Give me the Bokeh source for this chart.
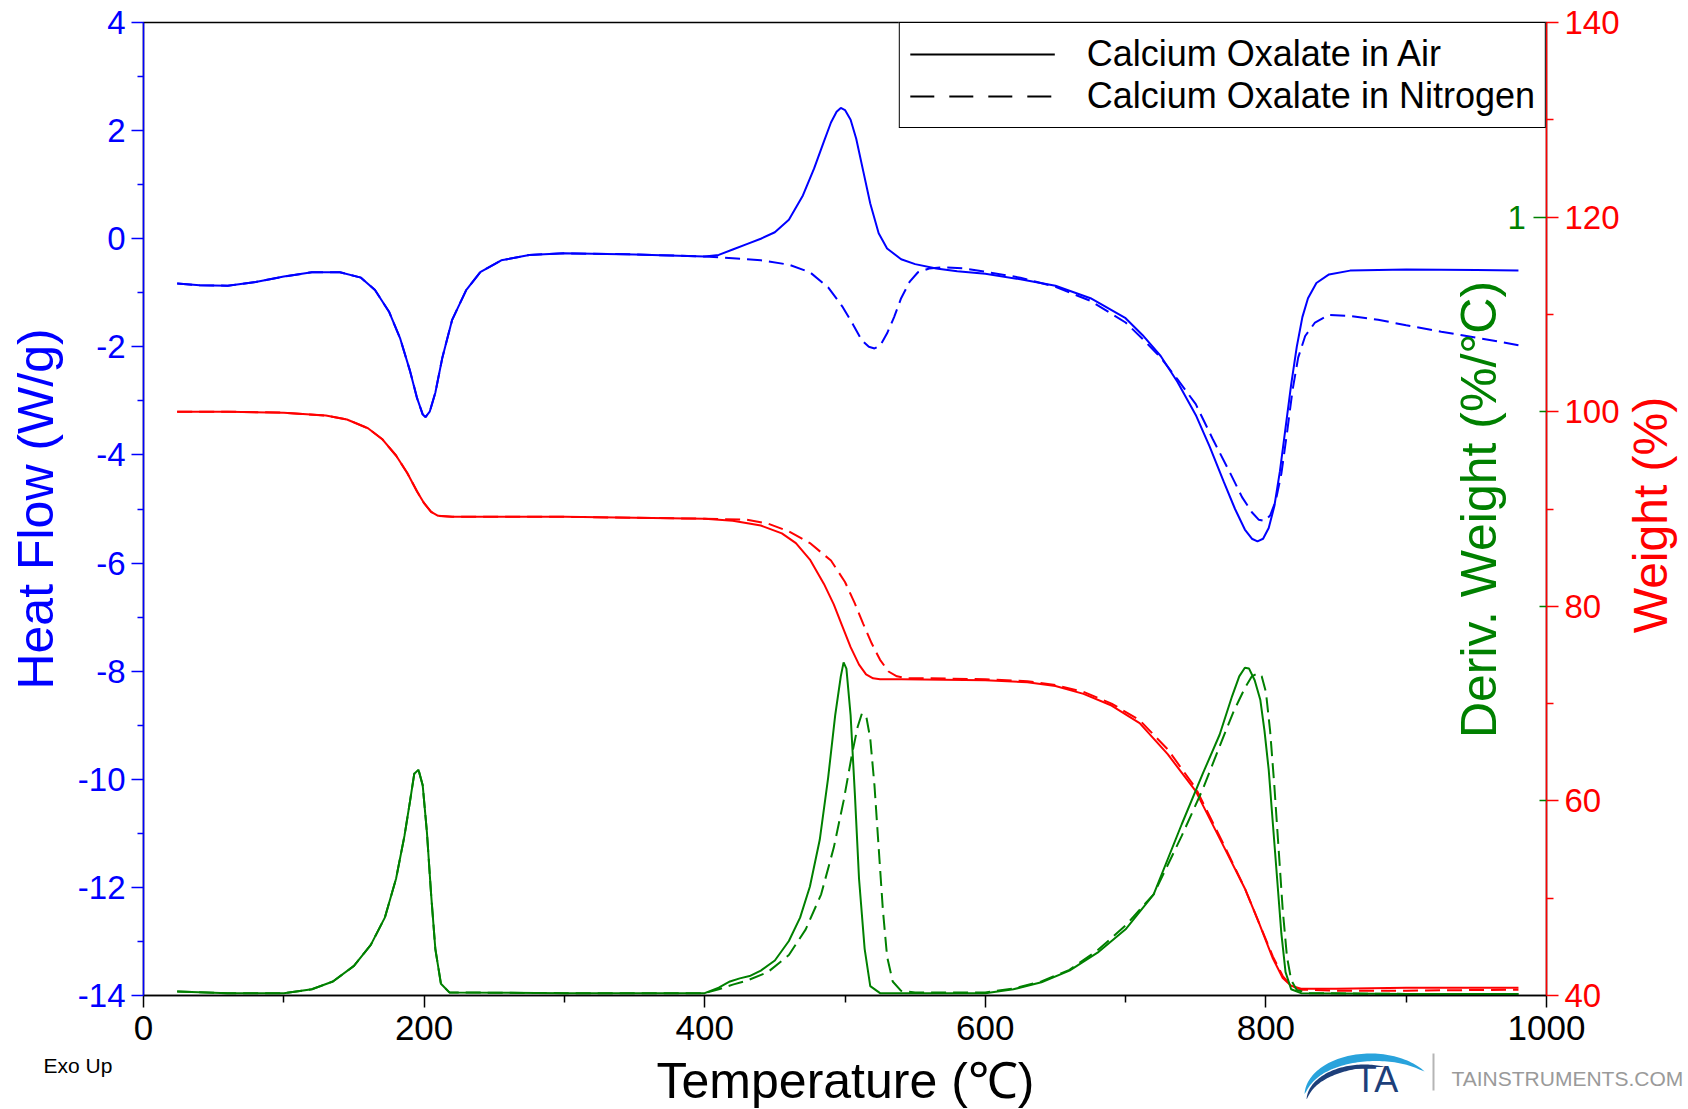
import numpy as np
from bokeh.plotting import figure
from bokeh.layouts import column, row
from bokeh.models import (Range1d, LinearAxis, FixedTicker, Legend, LegendItem, Label)
from bokeh.embed import file_html
from bokeh.resources import INLINE

FONT = "Liberation Sans"
BLUE = "#0000FF"
RED = "#FF0000"
GREEN = "#008000"

# ---------------- data ----------------
# Heat flow (W/g), air
t_hf_air = [24, 40, 60, 80, 100, 120, 140, 155, 165, 175, 183, 190, 195, 199, 201, 204, 208, 213, 220,
            230, 240, 255, 275, 300, 350, 400, 410, 420, 430, 440, 450, 460, 470, 478, 485, 490, 494,
            497, 500, 504, 508, 513, 518, 524, 530, 540, 550, 565, 580, 600, 625, 650, 675, 700, 712,
            725, 737, 750, 760, 770, 778, 785, 790, 794, 798, 802, 806, 810, 814, 818, 822, 826, 830,
            836, 845, 860, 900, 950, 980]
hf_air = [-0.83, -0.86, -0.87, -0.80, -0.70, -0.62, -0.62, -0.72, -0.95, -1.35, -1.85, -2.45, -2.95,
          -3.25, -3.30, -3.20, -2.85, -2.20, -1.50, -0.95, -0.62, -0.40, -0.30, -0.27, -0.29, -0.33,
          -0.30, -0.20, -0.10, 0.00, 0.12, 0.35, 0.80, 1.30, 1.80, 2.15, 2.35, 2.42, 2.38, 2.20, 1.85,
          1.25, 0.65, 0.10, -0.18, -0.38, -0.47, -0.55, -0.60, -0.65, -0.75, -0.87, -1.10, -1.47,
          -1.78, -2.17, -2.65, -3.26, -3.85, -4.50, -5.00, -5.38, -5.55, -5.60, -5.55, -5.35, -4.95,
          -4.30, -3.50, -2.70, -2.00, -1.45, -1.10, -0.82, -0.66, -0.59, -0.57, -0.58, -0.59]

# Heat flow (W/g), nitrogen
t_hf_n2 = [24, 40, 60, 80, 100, 120, 140, 155, 165, 175, 183, 190, 195, 199, 201, 204, 208, 213, 220,
           230, 240, 255, 275, 300, 350, 400, 420, 440, 460, 475, 488, 498, 506, 512, 517, 521, 525,
           530, 535, 540, 546, 552, 560, 570, 585, 600, 625, 650, 675, 700, 712, 725, 737, 750, 762,
           775, 783, 790, 795, 799, 803, 807, 811, 815, 819, 823, 828, 835, 845, 860, 880, 900, 925,
           950, 980]
hf_n2 = [-0.83, -0.86, -0.87, -0.80, -0.70, -0.62, -0.62, -0.72, -0.95, -1.35, -1.85, -2.45, -2.95,
         -3.25, -3.30, -3.20, -2.85, -2.20, -1.50, -0.95, -0.62, -0.40, -0.30, -0.27, -0.29, -0.33,
         -0.36, -0.40, -0.48, -0.62, -0.90, -1.25, -1.60, -1.88, -2.00, -2.03, -1.98, -1.75, -1.45,
         -1.10, -0.80, -0.62, -0.55, -0.53, -0.55, -0.61, -0.72, -0.89, -1.15, -1.55, -1.85, -2.20,
         -2.60, -3.06, -3.70, -4.36, -4.78, -5.06, -5.20, -5.22, -5.12, -4.85, -4.35, -3.60, -2.80,
         -2.20, -1.80, -1.55, -1.41, -1.43, -1.50, -1.60, -1.72, -1.83, -1.97]

# Weight (%), air
t_w_air = [24, 60, 100, 130, 145, 160, 170, 180, 188, 195, 200, 205, 210, 220, 300, 400, 420, 440,
           455, 465, 475, 485, 492, 498, 504, 510, 515, 520, 525, 540, 600, 630, 650, 670, 690, 710,
           730, 750, 770, 785, 795, 805, 812, 818, 825, 850, 900, 980]
w_air = [100.0, 100.0, 99.9, 99.6, 99.2, 98.3, 97.2, 95.5, 93.7, 91.8, 90.6, 89.7, 89.3, 89.2, 89.2,
         89.0, 88.8, 88.3, 87.5, 86.5, 84.8, 82.3, 80.2, 78.0, 75.8, 74.0, 73.0, 72.6, 72.5, 72.5,
         72.4, 72.2, 71.8, 71.0, 69.8, 68.0, 64.8, 61.0, 55.3, 51.0, 47.5, 43.8, 41.8, 41.0, 40.7,
         40.7, 40.8, 40.8]

# Weight (%), nitrogen
t_w_n2 = [24, 60, 100, 130, 145, 160, 170, 180, 188, 195, 200, 205, 210, 220, 300, 400, 430, 445, 460,
          475, 490, 500, 507, 513, 519, 525, 531, 537, 545, 560, 600, 630, 650, 670, 690, 710, 730,
          750, 770, 785, 795, 805, 812, 818, 825, 850, 900, 980]
w_n2 = [100.0, 100.0, 99.9, 99.6, 99.2, 98.3, 97.2, 95.5, 93.7, 91.8, 90.6, 89.7, 89.3, 89.2, 89.2,
        89.0, 88.9, 88.5, 87.7, 86.5, 84.7, 82.5, 80.3, 78.2, 76.2, 74.5, 73.3, 72.8, 72.6, 72.6,
        72.5, 72.3, 71.9, 71.2, 70.0, 68.3, 65.3, 61.3, 55.5, 51.0, 47.5, 44.0, 42.0, 41.0, 40.6,
        40.5, 40.5, 40.6]

# Deriv. weight (%/°C), air
t_d_air = [24, 60, 100, 120, 135, 150, 162, 172, 180, 186, 190, 193, 196, 199, 202, 205, 208, 212, 218,
           300, 400, 410, 418, 425, 432, 440, 450, 460, 468, 475, 482, 488, 493, 497, 499, 501, 504,
           507, 510, 514, 518, 525, 600, 620, 640, 660, 680, 700, 720, 740, 755, 767, 776, 781, 785,
           788, 792, 796, 799, 802, 805, 808, 811, 814, 818, 825, 900, 980]
d_air = [0.005, 0.003, 0.003, 0.008, 0.018, 0.038, 0.065, 0.10, 0.15, 0.205, 0.25, 0.285, 0.29, 0.27,
         0.21, 0.13, 0.06, 0.015, 0.004, 0.003, 0.003, 0.010, 0.018, 0.022, 0.025, 0.032, 0.045,
         0.070, 0.10, 0.14, 0.20, 0.28, 0.36, 0.41, 0.428, 0.42, 0.36, 0.26, 0.15, 0.06, 0.012,
         0.003, 0.003, 0.008, 0.017, 0.032, 0.055, 0.085, 0.13, 0.22, 0.285, 0.335, 0.385, 0.41,
         0.421, 0.42, 0.405, 0.38, 0.34, 0.29, 0.22, 0.15, 0.08, 0.03, 0.008, 0.003, 0.002, 0.002]

# Deriv. weight (%/°C), nitrogen
t_d_n2 = [24, 60, 100, 120, 135, 150, 162, 172, 180, 186, 190, 193, 196, 199, 202, 205, 208, 212, 218,
          300, 400, 410, 420, 430, 445, 460, 472, 483, 492, 499, 505, 509, 512, 515, 518, 521, 524,
          527, 530, 534, 540, 550, 600, 620, 640, 660, 680, 700, 720, 740, 755, 767, 777, 785, 790,
          794, 797, 800, 803, 806, 809, 812, 815, 818, 822, 830, 900, 980]
d_n2 = [0.005, 0.003, 0.003, 0.008, 0.018, 0.038, 0.065, 0.10, 0.15, 0.205, 0.25, 0.285, 0.29, 0.27,
        0.21, 0.13, 0.06, 0.015, 0.004, 0.003, 0.003, 0.008, 0.014, 0.019, 0.030, 0.052, 0.085, 0.13,
        0.19, 0.25, 0.31, 0.345, 0.362, 0.36, 0.33, 0.27, 0.19, 0.11, 0.05, 0.018, 0.006, 0.004,
        0.004, 0.009, 0.018, 0.033, 0.058, 0.09, 0.13, 0.205, 0.265, 0.32, 0.365, 0.395, 0.41, 0.414,
        0.41, 0.39, 0.34, 0.27, 0.19, 0.11, 0.05, 0.02, 0.007, 0.003, 0.002, 0.002]

legend_labels = ["Calcium Oxalate in Air", "Calcium Oxalate in Nitrogen"]

x_ticks = [0, 200, 400, 600, 800, 1000]
x_minor = [100, 300, 500, 700, 900]
hf_ticks = [-14, -12, -10, -8, -6, -4, -2, 0, 2, 4]
hf_minor = [-13, -11, -9, -7, -5, -3, -1, 1, 3]
w_ticks = [40, 60, 80, 100, 120, 140]
w_minor = [50, 70, 90, 110, 130]
d_ticks = [1]
d_minor = [0.25, 0.5, 0.75]

# ---------------- main figure ----------------
p = figure(width=1623, height=1051, x_range=Range1d(0, 1000), y_range=Range1d(-14, 4),
           output_backend="svg", toolbar_location=None,
           min_border_left=143, min_border_right=77, min_border_top=22, min_border_bottom=56,
           background_fill_color="white", border_fill_color="white")
p.grid.visible = False
p.outline_line_color = "black"
p.outline_line_width = 1.5
p.extra_y_ranges = {"w": Range1d(40, 140), "d": Range1d(0, 1.25)}


def style_axis(ax, color, size):
    ax.axis_line_color = color
    ax.axis_line_width = 1.5
    ax.major_tick_line_color = color
    ax.minor_tick_line_color = color
    ax.major_tick_line_width = 1.5
    ax.minor_tick_line_width = 1.5
    ax.major_label_text_color = color
    ax.major_label_text_font = FONT
    ax.major_label_text_font_size = size
    ax.major_tick_in = 0
    ax.minor_tick_in = 0
    ax.major_tick_out = 12
    ax.minor_tick_out = 7


xa = p.xaxis[0]
xa.ticker = FixedTicker(ticks=x_ticks, minor_ticks=x_minor)
style_axis(xa, "black", "35px")
xa.major_label_standoff = 8

ya = p.yaxis[0]
ya.ticker = FixedTicker(ticks=hf_ticks, minor_ticks=hf_minor)
style_axis(ya, BLUE, "33px")
ya.minor_tick_out = 6
ya.major_label_standoff = 6
ya.major_label_overrides = {v: str(v) for v in hf_ticks}
ya.axis_label = "Heat Flow (W/g)"
ya.axis_label_text_font = FONT
ya.axis_label_text_font_size = "50px"
ya.axis_label_text_font_style = "normal"
ya.axis_label_text_color = BLUE
ya.axis_label_standoff = 11

wa = LinearAxis(y_range_name="w", ticker=FixedTicker(ticks=w_ticks, minor_ticks=w_minor))
style_axis(wa, RED, "33px")
wa.major_label_standoff = 6
p.add_layout(wa, "right")

da = LinearAxis(y_range_name="d", fixed_location=1000,
                ticker=FixedTicker(ticks=d_ticks, minor_ticks=d_minor))
style_axis(da, GREEN, "33px")
da.axis_line_color = None
da.major_tick_out = 0
da.minor_tick_out = 0
da.major_tick_in = 13
da.minor_tick_in = 7
da.major_label_standoff = -39
p.add_layout(da, "right")

# ---------------- curves ----------------
DASH = "15 7"
p.line(t_w_air, w_air, color=RED, line_width=2, y_range_name="w")
p.line(t_w_n2, w_n2, color=RED, line_width=2, line_dash=DASH, y_range_name="w")
p.line(t_d_air, d_air, color=GREEN, line_width=2, y_range_name="d")
p.line(t_d_n2, d_n2, color=GREEN, line_width=2, line_dash=DASH, y_range_name="d")
p.line(t_hf_air, hf_air, color=BLUE, line_width=2)
p.line(t_hf_n2, hf_n2, color=BLUE, line_width=2, line_dash=DASH)

# legend with black sample lines (renderers hold no visible points)
r_air = p.line(x=[np.nan], y=[np.nan], color="black", line_width=2)
r_n2 = p.line(x=[np.nan], y=[np.nan], color="black", line_width=2, line_dash="24 15")
legend = Legend(items=[LegendItem(label=legend_labels[0], renderers=[r_air]),
                       LegendItem(label=legend_labels[1], renderers=[r_n2])],
                location="top_right", margin=0, padding=10, spacing=0,
                glyph_width=145, glyph_height=40, label_standoff=32,
                label_text_font=FONT, label_text_font_size="36px", label_text_color="black",
                border_line_color="black", border_line_width=1.5, border_line_alpha=1.0,
                background_fill_color="white", background_fill_alpha=1.0)
p.add_layout(legend)

p.add_layout(Label(x=1478, y=509, x_units="canvas", y_units="canvas", text="Deriv. Weight (%/°C)",
                   text_font=FONT, text_font_size="50px", text_color=GREEN, angle=np.pi / 2,
                   text_align="center", text_baseline="middle"))

# ---------------- right strip: weight axis title ----------------
pr = figure(width=65, height=1051, x_range=Range1d(1623, 1688), y_range=Range1d(1051, 0),
            output_backend="svg", toolbar_location=None, x_axis_location=None,
            y_axis_location=None, min_border=0, outline_line_color=None,
            background_fill_color="white", border_fill_color="white")
pr.grid.visible = False
pr.add_layout(Label(x=1650, y=532, text="Weight (%)", text_font=FONT, text_font_size="48px",
                    text_color=RED, angle=np.pi / 2, text_align="center", text_baseline="middle"))

# ---------------- bottom strip: temperature title, Exo Up, logo ----------------
pb = figure(width=1688, height=58, x_range=Range1d(0, 1688), y_range=Range1d(1109, 1051),
            output_backend="svg", toolbar_location=None, x_axis_location=None,
            y_axis_location=None, min_border=0, outline_line_color=None,
            background_fill_color="white", border_fill_color="white")
pb.grid.visible = False
pb.add_layout(Label(x=845, y=1080, text="Temperature (℃)", text_font=FONT, text_font_size="50px",
                    text_color="black", text_align="center", text_baseline="middle"))
pb.add_layout(Label(x=43, y=1064.5, text="Exo Up", text_font=FONT, text_font_size="21px",
                    text_color="black", text_align="left", text_baseline="middle"))


def crescent(cx, cy, rx, ry, t0, t1, wmax, n=60):
    t = np.radians(np.linspace(t0, t1, n))
    w = wmax * np.sin(np.pi * np.linspace(0, 1, n)) ** 0.7
    xo = cx + rx * np.cos(t)
    yo = cy - ry * np.sin(t)
    xi = cx + (rx - w) * np.cos(t)
    yi = cy - (ry - w) * np.sin(t)
    return list(np.concatenate([xo, xi[::-1]])), list(np.concatenate([yo, yi[::-1]]))


sx, sy = crescent(1370, 1095, 66, 42, 178, 35, 8)
pb.patch(sx, sy, fill_color="#29a3dc", line_color=None)
sx, sy = crescent(1364, 1100, 58, 36, 178, 70, 5)
pb.patch(sx, sy, fill_color="#1d3f7a", line_color=None)
pb.line([1433, 1433], [1053, 1090], line_color="#b5b5b5", line_width=2)
pb.add_layout(Label(x=1376, y=1079, text="TA", text_font=FONT, text_font_size="36px",
                    text_color="#1d3f7a", text_align="center", text_baseline="middle"))
pb.add_layout(Label(x=1451, y=1078, text="TAINSTRUMENTS.COM", text_font=FONT, text_font_size="21px",
                    text_color="#9a9a9a", text_align="left", text_baseline="middle"))

layout = column(row(p, pr), pb)
open("out.html", "w").write(file_html(layout, INLINE))
